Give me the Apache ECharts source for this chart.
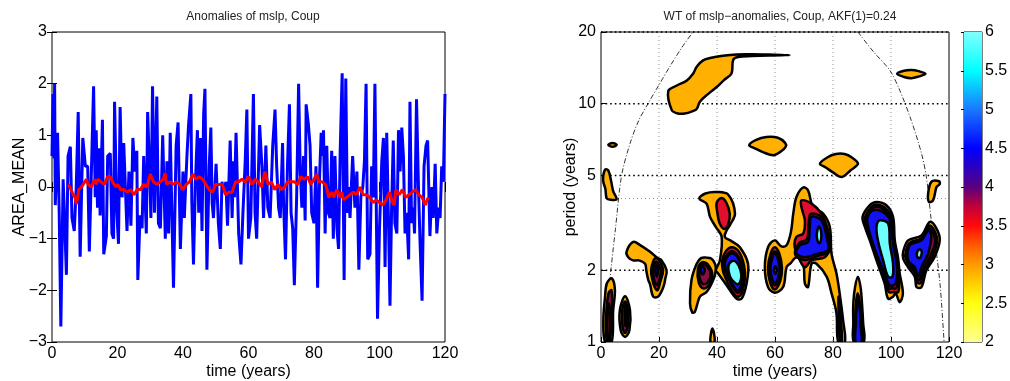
<!DOCTYPE html>
<html><head><meta charset="utf-8">
<script src="https://cdn.jsdelivr.net/npm/echarts@6/dist/echarts.min.js"></script>
<style>html,body{margin:0;padding:0;background:#fff}#c{width:1010px;height:381px}</style>
</head><body><div id="c"></div>
<script>
// ---------- DATA ----------
const timeTicks = [0, 20, 40, 60, 80, 100, 120];
const anomalyTicks = [-3, -2, -1, 0, 1, 2, 3];
const periodTicks = [1, 2, 5, 10, 20];
const colorbarTicks = [2, 2.5, 3, 3.5, 4, 4.5, 5, 5.5, 6];

// blue: anomalies [time, value]
const anomalies = [[0.0,0.6],[0.3,1.8],[0.6,0.55],[0.8,2.0],[1.0,-0.35],[1.7,1.05],[2.2,-0.5],[2.7,-2.7],[3.4,0.15],[3.9,-0.75],[4.4,-1.7],[4.9,0.6],[5.6,0.78],[6.1,-0.6],[6.8,-0.85],[7.4,0.0],[8.0,1.45],[8.6,-1.35],[9.4,0.95],[10.2,0.4],[10.9,0.4],[11.4,-1.25],[12.7,1.95],[13.2,-0.2],[13.5,1.1],[13.9,-0.4],[14.3,0.75],[14.7,-0.55],[15.4,1.3],[15.8,-1.3],[16.6,-0.95],[17.0,0.6],[17.8,0.65],[18.3,-0.9],[18.8,-1.0],[19.1,1.65],[19.8,-0.5],[20.3,-1.1],[20.8,1.55],[21.4,-0.2],[21.9,0.85],[22.9,-0.85],[23.5,0.3],[24.1,-0.75],[24.7,0.95],[25.3,0.3],[25.9,0.7],[26.2,-1.8],[26.9,-0.55],[27.5,-0.8],[28.0,0.6],[28.8,-0.9],[29.2,1.45],[29.8,0.3],[30.2,-0.6],[30.7,1.95],[31.3,-0.5],[32.0,1.75],[32.5,-0.7],[33.1,-0.8],[33.8,1.0],[34.6,-1.0],[35.1,0.5],[35.6,-0.9],[36.1,1.05],[36.6,-0.5],[37.1,-1.95],[37.9,0.8],[38.5,1.25],[39.2,-1.2],[40.0,0.3],[40.4,-0.6],[41.2,0.6],[41.7,1.2],[42.4,1.8],[42.7,-0.3],[43.2,-1.5],[43.8,0.1],[44.4,1.1],[44.8,-0.5],[45.3,0.95],[45.8,-0.85],[46.3,1.4],[46.7,1.9],[47.3,-1.6],[48.0,0.4],[48.5,1.15],[48.9,-0.3],[49.3,-0.6],[50.1,0.45],[50.8,-0.7],[51.4,-1.2],[51.9,0.1],[52.4,-0.1],[53.1,0.1],[53.6,-0.75],[54.4,0.9],[55.0,-0.6],[55.4,0.5],[55.7,-0.2],[56.2,1.05],[57.0,-0.9],[57.7,-1.5],[58.3,-0.5],[59.0,0.5],[59.5,1.5],[60.0,-1.0],[60.7,-0.6],[61.5,1.8],[62.0,-0.5],[62.5,-1.0],[63.4,1.2],[64.1,0.4],[64.6,-0.6],[65.3,0.8],[65.9,-0.4],[66.6,-0.6],[67.4,0.8],[68.1,1.5],[68.6,0.4],[69.2,-0.4],[69.7,-0.6],[70.4,0.85],[70.7,-0.3],[71.3,-1.4],[71.9,0.4],[72.5,1.6],[73.0,-0.5],[73.5,-0.8],[74.0,-1.9],[74.7,-0.2],[75.3,2.0],[75.8,0.3],[76.3,-0.4],[76.8,0.6],[77.3,-0.65],[77.6,1.6],[78.3,1.2],[78.8,0.8],[79.3,-0.5],[80.0,-0.7],[80.6,0.4],[81.1,-1.95],[81.7,0.2],[82.2,1.05],[82.7,0.6],[82.9,1.1],[83.4,-0.9],[83.9,0.8],[84.4,-0.5],[84.9,-0.6],[85.4,0.7],[85.9,-1.0],[86.4,0.6],[87.0,-0.8],[87.5,-1.2],[88.0,0.7],[88.6,2.2],[89.2,-1.8],[89.7,2.1],[90.2,-0.5],[90.5,0.0],[91.0,-0.6],[91.8,0.6],[92.5,-0.4],[93.1,0.3],[93.7,-1.6],[94.3,-0.2],[94.9,0.0],[95.4,0.5],[95.9,2.0],[96.4,-1.4],[97.1,-1.3],[97.6,0.4],[98.1,-0.2],[98.6,2.0],[99.4,-2.55],[100.0,-0.8],[100.7,0.5],[101.2,0.95],[101.7,-1.55],[102.2,1.05],[102.7,-0.5],[103.2,-2.3],[103.7,-0.4],[104.2,0.9],[104.7,-0.7],[105.3,-0.9],[105.8,1.1],[106.3,0.3],[106.8,1.15],[107.3,0.6],[107.8,-0.9],[108.3,-0.5],[108.9,-1.4],[109.3,1.65],[109.8,-0.7],[110.3,-0.4],[110.7,-0.9],[111.3,1.7],[111.9,0.0],[112.4,-1.1],[113.0,-2.2],[113.6,0.4],[114.2,0.8],[114.7,0.9],[115.4,-0.95],[116.0,0.0],[116.4,-0.6],[117.0,0.45],[117.5,-0.9],[118.1,-0.4],[118.5,-0.6],[119.0,0.4],[119.5,0.1],[120.0,1.8]];

// red: running mean [time, value]
const runningMean = [[5,0.05],[5.8,-0.05],[6.5,-0.15],[7,-0.2],[7.5,-0.33],[8.2,-0.05],[9,0.0],[10,0.1],[10.5,0.15],[11,0.05],[12,0.0],[13,0.15],[13.5,0.05],[14,0.15],[15,0.1],[16,0.05],[17,0.2],[17.8,0.2],[18.5,0.1],[19.5,0.0],[20,0.05],[21,-0.05],[22,-0.05],[23,-0.1],[24,-0.05],[25,-0.15],[26,-0.05],[27,-0.05],[28,0.05],[29,0.0],[30,0.25],[31,0.1],[32,0.05],[33,0.1],[34,0.15],[34.5,0.27],[35,0.05],[36,0.1],[37,0.05],[38,0.1],[39,0.05],[40,-0.05],[41,0.05],[42,0.1],[43,0.25],[44,0.15],[45,0.2],[46,0.15],[47,0.05],[48,-0.05],[49,-0.1],[50,0.05],[51,0.05],[52,0.05],[53,-0.15],[54,-0.1],[55,-0.1],[56,0.1],[57,0.1],[58,0.15],[59,0.1],[60,0.2],[61,0.05],[62,0.15],[63,0.1],[64,0.0],[65,0.3],[66,0.05],[67,0.1],[68,-0.05],[69,0.05],[70,-0.05],[71,0.0],[72,0.1],[73,0.1],[74,0.1],[75,0.05],[76,0.2],[77,0.15],[78,0.2],[79,0.05],[80,0.15],[80.8,0.25],[81.5,0.1],[82.5,0.1],[83.5,0.05],[84,-0.05],[84.5,-0.2],[85,-0.15],[85.5,-0.1],[86,-0.2],[87,-0.05],[88,-0.2],[88.5,-0.1],[89,-0.25],[90,-0.2],[91,-0.15],[92,-0.1],[93,-0.15],[94,0.0],[95,-0.15],[96,-0.15],[97,-0.2],[98,-0.3],[99,-0.25],[100,-0.3],[101,-0.35],[102,-0.25],[103,-0.1],[104,-0.3],[104.5,-0.35],[105,-0.05],[106,-0.15],[107,-0.05],[108,-0.2],[109,-0.15],[110,-0.1],[111,-0.05],[112,-0.15],[113,-0.2],[114,-0.35],[114.5,-0.25],[115,-0.2]];

// cone of influence [time, period]
const coiLeft = [[1.4,1],[2.4,1.5],[3.4,2],[5,3],[7.1,5],[10,6.8],[13,8.5],[16.2,10],[20,12],[24,14.5],[28,17.3],[31.7,20]];
const coiRight = [[88.6,20],[94,16.5],[99.6,13.8],[103,11.4],[107,8.5],[110.5,6.2],[112.2,4.93],[113.9,3.24],[115.7,2.35],[117,1.7],[118.2,1.05],[118.3,1]];

// grid lines of the wavelet panel
const gridPeriodsMajor = [2, 5, 10, 20];
const gridPeriodsMinor = [4];
const gridTimes = [20, 40, 60, 80, 100];

// contour levels (wavelet power)
const LV_ORANGE = 2.8, LV_RED = 3.5, LV_MAROON = 3.8, LV_BLUE = 4.5, LV_CYAN = 5.5;

// contour regions [time, period]
const blobTop = [[23.2,11.3],[24.4,9.4],[26.5,9.1],[28.9,9.1],[31.5,9.3],[33.0,9.5],[34.1,10.2],[37,11.0],[39.9,11.75],[42.5,12.6],[45.0,13.4],[45.6,15.3],[47.3,15.7],[52,15.85],[58,15.95],[65.1,16.0],[58,16.08],[52,16.12],[46.8,16.1],[42,15.9],[38,15.6],[35.2,15.2],[33.0,14.3],[31.8,13.4],[29.5,12.5],[26,11.9]];
const blobMid1 = [[51.1,6.7],[53.5,7.05],[57,7.25],[61,7.2],[63.5,6.85],[63.7,6.6],[62,6.3],[59.5,6.08],[56,6.25],[53,6.5]];
const blobMid2 = [[75.5,5.6],[78,5.95],[81,6.15],[84,6.15],[86.5,5.95],[88.6,5.6],[86,5.25],[83,4.93],[80,5.15],[77.5,5.4]];
const blobTopRight = [[102.1,13.35],[104.5,13.75],[107,13.85],[109.5,13.7],[111.9,13.35],[109.5,13.0],[107,12.8],[104.5,12.95]];
const blobDash = [[2.5,6.72],[4,6.85],[5.4,6.72],[4,6.6]];
const blobLeft5 = [[0.8,5.0],[1.5,5.3],[2.5,5.25],[3.4,4.8],[4.2,4.3],[5.4,3.97],[3.5,3.95],[2.0,4.0],[1.5,4.4],[0.8,4.7]];
const blobG = [[8.8,2.39],[11.1,2.63],[13.5,2.55],[16.9,2.39],[19.5,2.25],[20.9,2.2],[22.6,2.0],[22.2,1.85],[21.5,1.7],[19.7,1.55],[18.0,1.55],[16.9,1.75],[16.3,1.82],[15.6,2.0],[15.2,2.13],[13,2.2],[11.1,2.2],[9.4,2.27]];
const blobGred = [[17.3,2.0],[18,2.18],[19,2.25],[20.3,2.18],[21.4,2.0],[20.5,1.8],[19.5,1.65],[18.5,1.7],[17.6,1.85]];
const blobGmar = [[17.9,2.0],[18.4,2.12],[19.1,2.17],[20,2.1],[20.7,1.98],[20.1,1.82],[19.4,1.73],[18.6,1.78],[18.1,1.88]];
const blobGblue = [[18.7,2.0],[19.2,2.1],[19.7,2.0],[19.2,1.88]];
const blobH = [[36.4,2.26],[34.5,2.25],[33.0,2.13],[31.2,1.82],[30.7,1.45],[31.5,1.33],[32.4,1.34],[34.1,1.55],[36.4,1.62],[38.7,1.82],[39.6,2.0],[39.3,2.13],[38.0,2.24]];
const blobHred = [[33.4,2.02],[34.8,2.16],[36.8,2.12],[38.4,1.92],[37.2,1.73],[35.2,1.68],[33.7,1.78]];
const blobHmar = [[33.9,2.02],[35,2.12],[36.6,2.08],[37.8,1.93],[36.8,1.78],[35.2,1.75],[34.1,1.84]];
const blobHblue = [[34.4,2.0],[35.1,2.08],[35.8,2.0],[35.1,1.92]];
const blobI = [[33.9,4.0],[36,4.2],[39.9,4.26],[43.9,4.15],[46.2,3.46],[44.5,3.1],[43.3,2.94],[42.7,2.76],[45,2.65],[47.9,2.5],[50.7,2.13],[50.2,1.76],[48.5,1.52],[46.7,1.52],[43.3,1.73],[40.4,1.94],[39.6,2.0],[41.0,2.2],[41.6,2.76],[39.5,3.05],[37.6,3.35],[36.4,3.81]];
const blobIupRed = [[39.9,3.85],[41.5,4.02],[43.2,3.85],[44.4,3.45],[43.8,3.1],[42.5,2.98],[40.9,3.15],[40.1,3.5]];
const blobIred = [[41.8,2.2],[43,2.4],[45,2.5],[47.5,2.4],[49.3,2.1],[49.6,1.85],[48.5,1.6],[47,1.55],[45,1.65],[43,1.85],[42,2.0]];
const blobImar = [[42.5,2.2],[43.5,2.33],[45.1,2.41],[47.1,2.31],[48.8,2.06],[49.0,1.85],[48.2,1.65],[47,1.61],[45.3,1.71],[43.6,1.89],[42.6,2.03]];
const blobIblue = [[42.8,2.18],[43.8,2.3],[45.2,2.36],[47,2.28],[48.6,2.05],[48.8,1.85],[48,1.68],[47,1.64],[45.5,1.73],[43.8,1.9],[42.9,2.04]];
const blobIcyan = [[43.9,2.07],[45,2.18],[46.6,2.17],[48.1,2.0],[48.3,1.84],[47.3,1.75],[46,1.78],[44.5,1.88]];
const blobJK = [[56.5,2.06],[57.6,2.5],[59.9,2.67],[62.2,2.52],[64.0,2.55],[65.5,2.9],[66.3,3.46],[67.4,4.06],[69.7,4.45],[71.4,4.33],[73.1,3.69],[76.6,3.46],[78.9,3.04],[79.5,2.35],[81.2,1.94],[82.3,1.6],[83.5,1.23],[84.1,1.0],[81.8,1.0],[81.2,1.32],[79.5,1.6],[77.8,1.88],[74.3,2.13],[72.6,2.13],[71.4,1.70],[70.3,1.76],[69.7,2.13],[67.4,2.27],[65.5,2.15],[64.0,2.06],[62.8,1.70],[59.9,1.61],[57.6,1.70]];
const blobJred = [[57.6,2.05],[58.5,2.35],[59.9,2.5],[61.5,2.35],[62.4,2.05],[61.8,1.8],[59.9,1.66],[58.3,1.78]];
const blobJmar = [[58.1,2.05],[58.9,2.29],[59.9,2.4],[61.1,2.29],[61.9,2.05],[61.4,1.83],[59.9,1.73],[58.7,1.83]];
const blobJblue = [[58.4,2.05],[59.1,2.25],[59.9,2.35],[60.9,2.25],[61.6,2.05],[61.1,1.86],[59.9,1.77],[58.9,1.86]];
const blobJcyan = [[59.6,2.0],[60.1,2.08],[60.6,2.0],[60.1,1.93]];
const blobKtail = [[81.9,1.55],[82.6,1.3],[83.1,1.0],[82.4,1.0],[82.0,1.25]];
const blobKred = [[69.1,3.93],[72.6,3.81],[76.0,3.46],[78.3,2.94],[78.9,2.5],[77.2,2.27],[72.6,2.2],[70.3,2.06],[68.6,2.2],[66.8,2.5],[67.4,2.76],[69.7,2.85],[70.3,3.24],[69.1,3.69]];
const blobKmar = [[72.3,3.45],[76.4,3.32],[78.2,2.78],[78.7,2.4],[74.9,2.3],[70.3,2.21],[67.0,2.32],[68.3,2.6],[71.0,2.7],[71.6,3.1]];
const blobKblue = [[72.6,3.35],[76.0,3.24],[77.8,2.76],[78.3,2.43],[74.9,2.35],[70.3,2.27],[67.4,2.35],[68.6,2.55],[71.4,2.63],[72.0,3.04]];
const blobKcyan = [[74.4,2.82],[74.8,3.0],[75.3,3.05],[75.9,2.9],[75.9,2.7],[75.3,2.6],[74.7,2.65]];
const blobL = [[88.6,1.88],[89.5,1.7],[90.0,1.45],[90.4,1.2],[90.6,1.0],[87.2,1.0],[87.0,1.2],[87.0,1.45],[87.6,1.7]];
const blobLred = [[88.5,1.6],[89.3,1.45],[89.8,1.2],[90.1,1.0],[87.6,1.0],[87.6,1.2],[87.9,1.45]];
const blobLblue = [[88.6,1.5],[89.3,1.35],[89.6,1.15],[89.8,1.0],[87.8,1.0],[87.9,1.2],[88.1,1.38]];
const blobM = [[90.2,3.35],[92.7,3.75],[95.0,3.87],[98.4,3.75],[100.7,3.35],[101.3,2.67],[102.4,2.27],[103.0,1.94],[104.1,1.6],[103.0,1.47],[101.6,1.6],[100.7,1.55],[99.0,1.52],[97.8,1.76],[95.0,2.2],[92.7,2.67],[91.0,3.04]];
const blobMred = [[91.0,3.32],[93.2,3.68],[95.0,3.78],[98.0,3.65],[100.2,3.3],[100.9,2.63],[102.2,2.15],[102.8,1.85],[102.5,1.62],[101,1.62],[99.3,1.62],[97.8,1.85],[95,2.27],[92.7,2.76],[91.4,3.05]];
const blobMmar = [[91.4,3.31],[93.5,3.62],[95.1,3.7],[97.7,3.58],[99.9,3.27],[100.8,2.61],[102.1,2.1],[102.3,1.84],[101.8,1.68],[100.5,1.68],[99.4,1.68],[97.8,1.9],[95,2.31],[92.7,2.8]];
const blobMblue = [[91.8,3.3],[93.8,3.57],[97.3,3.51],[99.6,3.24],[100.7,2.59],[102.1,2.06],[101.6,1.76],[99.6,1.73],[97.8,1.94],[95.0,2.35],[92.7,2.85]];
const blobMcyan = [[96.1,3.24],[99.0,3.14],[99.6,2.59],[100.7,2.13],[100.5,1.88],[99.0,1.88],[97.3,2.2],[95.5,2.67],[95.0,3.04]];
const blobN = [[104.2,2.39],[105.9,2.67],[110.5,2.8],[113.4,3.19],[115.7,2.99],[116.8,2.67],[115.0,2.27],[112.2,2.0],[110.5,1.70],[108.8,1.70],[108.2,1.88],[105.9,2.06],[104.2,2.24]];
const blobNred = [[105.0,2.35],[106.3,2.6],[110.5,2.73],[113.2,3.08],[115.0,2.93],[115.9,2.65],[114.3,2.28],[111.8,2.02],[110.3,1.77],[109.2,1.77],[108.6,1.92],[106.3,2.1],[105.0,2.26]];
const blobNmar = [[105.6,2.42],[106.4,2.58],[110.5,2.7],[113,3.0],[114.6,2.86],[115.2,2.62],[113.6,2.3],[111.2,2.03],[109.8,1.82],[108.8,1.85],[108.4,1.98],[106.1,2.15],[105.4,2.3]];
const blobNblue = [[106.5,2.55],[110.5,2.67],[112.8,2.94],[113.9,2.8],[112.8,2.35],[110.5,2.06],[109.3,1.88],[108.2,2.06],[105.9,2.2]];
const blobNcyan = [[108.9,2.35],[109.8,2.45],[110.6,2.4],[110.2,2.27],[109.4,2.25]];
const blobO = [[113.9,4.7],[116.6,4.73],[116.8,4.6],[115.7,4.47],[114.5,3.93],[113.1,3.87],[112.8,4.19]];
const blobP = [[2.0,1.76],[3.7,1.85],[4.8,1.65],[4.2,1.36],[3.7,1.0],[1.4,1.0],[0.8,1.23],[1.4,1.55]];
const blobPmar = [[2.6,1.6],[3.6,1.65],[3.8,1.4],[3.0,1.0],[2.0,1.0],[1.8,1.3]];
const blobPred = [[2.7,1.45],[3.2,1.3],[2.8,1.0],[2.2,1.0],[2.3,1.3]];
const blobQ = [[8.3,1.555],[10.0,1.36],[9.8,1.12],[8.3,1.05],[6.8,1.12],[6.5,1.36]];
const blobQmar = [[8.3,1.48],[9.3,1.36],[9.2,1.16],[8.3,1.09],[7.4,1.16],[7.3,1.36]];
const blobQred = [[8.4,1.44],[8.8,1.3],[8.7,1.17],[8.4,1.17],[8.2,1.3]];
const blobR = [[37.8,1.0],[37.9,1.08],[38.4,1.14],[39.0,1.08],[39.1,1.0]];

const contourRings = [
  [blobTop, LV_ORANGE], [blobMid1, LV_ORANGE], [blobMid2, LV_ORANGE], [blobTopRight, LV_ORANGE],
  [blobDash, LV_ORANGE], [blobLeft5, LV_ORANGE], [blobO, LV_ORANGE], [blobR, LV_ORANGE],
  [blobP, LV_ORANGE], [blobPmar, LV_MAROON], [blobPred, LV_RED],
  [blobQ, LV_ORANGE], [blobQmar, LV_MAROON], [blobQred, LV_RED],
  [blobG, LV_ORANGE], [blobGred, LV_RED], [blobGmar, LV_MAROON], [blobGblue, LV_BLUE],
  [blobH, LV_ORANGE], [blobHred, LV_RED], [blobHmar, LV_MAROON], [blobHblue, LV_BLUE],
  [blobI, LV_ORANGE], [blobIupRed, LV_RED], [blobIred, LV_RED], [blobImar, LV_MAROON], [blobIblue, LV_BLUE], [blobIcyan, LV_CYAN],
  [blobJK, LV_ORANGE], [blobJred, LV_RED], [blobJmar, LV_MAROON], [blobJblue, LV_BLUE], [blobJcyan, LV_CYAN],
  [blobKtail, LV_MAROON], [blobKred, LV_RED], [blobKmar, LV_MAROON], [blobKblue, LV_BLUE], [blobKcyan, LV_CYAN],
  [blobL, LV_ORANGE], [blobLred, LV_RED], [blobLblue, LV_BLUE],
  [blobM, LV_ORANGE], [blobMred, LV_RED], [blobMmar, LV_MAROON], [blobMblue, LV_BLUE], [blobMcyan, LV_CYAN],
  [blobN, LV_ORANGE], [blobNred, LV_RED], [blobNmar, LV_MAROON], [blobNblue, LV_BLUE], [blobNcyan, LV_CYAN]
];

// colormap of the colorbar
const colormapValues = [2, 2.5, 2.75, 3, 3.25, 3.5, 3.75, 4, 4.25, 4.5, 5, 5.5, 6];
const colormapColors = ['#ffff90', '#ffff10', '#ffd000', '#ff9a00', '#ff5a00', '#ff0a0a', '#c00038', '#5a0080', '#2a00c0', '#0000ff', '#1a78ff', '#00ffff', '#80ffff'];

// ---------- STYLE ----------
const FONT = "'Liberation Sans', Arial, Helvetica, sans-serif";
const levelColor = {};
levelColor[LV_ORANGE] = '#FFB000';
levelColor[LV_RED] = '#E0102C';
levelColor[LV_MAROON] = '#8A0E42';
levelColor[LV_BLUE] = '#1212F2';
levelColor[LV_CYAN] = '#70FFFF';

const log10 = v => Math.log10(v);
const minus = v => String(v).replace('-', '\u2212');
const LOGMAX = log10(20);

const chart = echarts.init(document.getElementById('c'), null, {renderer: 'canvas'});

const tickStyle = {show: true, inside: true, length: 5, lineStyle: {color: '#000', width: 1}};
const labelStyle = {color: '#000', fontSize: 16, fontFamily: FONT};

function hLine(color, width, dash) {
  return function (params, api) {
    const cs = params.coordSys;
    const y = api.coord([0, api.value(1)])[1];
    return {type: 'line', shape: {x1: cs.x, y1: y, x2: cs.x + cs.width, y2: y},
      style: {stroke: color, lineWidth: width, lineDash: dash}, silent: true};
  };
}
function vLine(color, width, dash) {
  return function (params, api) {
    const cs = params.coordSys;
    const x = api.coord([api.value(0), 0])[0];
    return {type: 'line', shape: {x1: x, y1: cs.y, x2: x, y2: cs.y + cs.height},
      style: {stroke: color, lineWidth: width, lineDash: dash}, silent: true};
  };
}

const option = {
  animation: false,
  backgroundColor: '#fff',
  textStyle: {fontFamily: FONT},
  title: [
    {text: 'Anomalies of mslp, Coup', left: 248, top: 6, textAlign: 'center',
     textStyle: {fontSize: 12, fontWeight: 'normal', color: '#222', fontFamily: FONT}},
    {text: 'WT of mslp\u2212anomalies, Coup, AKF(1)=0.24', left: 775, top: 6, textAlign: 'center',
     textStyle: {fontSize: 12, fontWeight: 'normal', color: '#222', fontFamily: FONT}}
  ],
  grid: [
    {left: 52, top: 32, width: 393, height: 310, show: true, borderColor: '#000', borderWidth: 1, backgroundColor: '#fff', outerBoundsMode: 'none', containLabel: false},
    {left: 601, top: 32, width: 348, height: 310, show: true, borderColor: '#000', borderWidth: 1, backgroundColor: '#fff', outerBoundsMode: 'none', containLabel: false},
    {left: 964, top: 32, width: 18, height: 310, show: true, borderColor: '#000', borderWidth: 1, outerBoundsMode: 'none', containLabel: false}
  ],
  xAxis: [
    {gridIndex: 0, type: 'value', min: 0, max: 120, interval: 20, axisLine: {show: false},
     axisTick: tickStyle, axisLabel: Object.assign({margin: 4}, labelStyle), splitLine: {show: false},
     name: 'time (years)', nameLocation: 'middle', nameGap: 22, nameMoveOverlap: false, nameTextStyle: labelStyle},
    {gridIndex: 0, type: 'value', position: 'top', min: 0, max: 120, interval: 20, axisLine: {show: false},
     axisTick: tickStyle, axisLabel: {show: false}, splitLine: {show: false}},
    {gridIndex: 1, type: 'value', min: 0, max: 120, interval: 20, axisLine: {show: false},
     axisTick: tickStyle, axisLabel: Object.assign({margin: 4}, labelStyle), splitLine: {show: false},
     name: 'time (years)', nameLocation: 'middle', nameGap: 22, nameMoveOverlap: false, nameTextStyle: labelStyle},
    {gridIndex: 2, type: 'value', min: 0, max: 1, show: false}
  ],
  yAxis: [
    {gridIndex: 0, type: 'value', min: -3, max: 3, interval: 1, axisLine: {show: false},
     axisTick: tickStyle, axisLabel: Object.assign({margin: 5, formatter: minus}, labelStyle), splitLine: {show: false},
     name: 'AREA_MEAN', nameLocation: 'middle', nameGap: 24, nameMoveOverlap: false, nameTextStyle: labelStyle},
    {gridIndex: 0, type: 'value', position: 'right', min: -3, max: 3, interval: 1, axisLine: {show: false},
     axisTick: tickStyle, axisLabel: {show: false}, splitLine: {show: false}},
    {gridIndex: 1, type: 'value', min: 0, max: LOGMAX, axisLine: {show: false},
     axisTick: Object.assign({customValues: periodTicks.map(log10)}, tickStyle),
     axisLabel: Object.assign({margin: 5, customValues: periodTicks.map(log10),
       formatter: v => String(Math.round(Math.pow(10, v)))}, labelStyle),
     splitLine: {show: false},
     name: 'period (years)', nameLocation: 'middle', nameGap: 22, nameMoveOverlap: false, nameTextStyle: labelStyle},
    {gridIndex: 2, type: 'value', position: 'right', min: 2, max: 6, interval: 0.5, axisLine: {show: false},
     axisTick: {show: true, inside: true, length: 3, lineStyle: {color: '#000'}},
     axisLabel: Object.assign({margin: 3}, labelStyle), splitLine: {show: false}}
  ],
  series: [
    {type: 'line', xAxisIndex: 0, yAxisIndex: 0, data: anomalies, showSymbol: false,
     lineStyle: {color: '#0000ff', width: 3}, z: 2},
    {type: 'line', xAxisIndex: 0, yAxisIndex: 0, data: runningMean, showSymbol: false,
     lineStyle: {color: '#ff0000', width: 3}, z: 3},
    // grid lines
    {type: 'custom', xAxisIndex: 2, yAxisIndex: 2, renderItem: vLine('#8a8a8a', 1, [1, 3]),
     data: gridTimes.map(t => [t, 0]), z: 1},
    {type: 'custom', xAxisIndex: 2, yAxisIndex: 2, renderItem: hLine('#8a8a8a', 1, [1, 3]),
     data: gridPeriodsMinor.map(p => [0, log10(p)]), z: 1},
    {type: 'custom', xAxisIndex: 2, yAxisIndex: 2, renderItem: hLine('#000', 1.6, [1.6, 3]),
     data: gridPeriodsMajor.map(p => [0, log10(p)]), z: 1},
    // cone of influence
    {type: 'line', xAxisIndex: 2, yAxisIndex: 2, data: coiLeft.map(d => [d[0], log10(d[1])]), showSymbol: false,
     smooth: 0.3, lineStyle: {color: '#000', width: 0.8, type: [5, 2, 1, 2]}, z: 2},
    {type: 'line', xAxisIndex: 2, yAxisIndex: 2, data: coiRight.map(d => [d[0], log10(d[1])]), showSymbol: false,
     smooth: 0.3, lineStyle: {color: '#000', width: 0.8, type: [5, 2, 1, 2]}, z: 2},
    // contours
    {type: 'custom', xAxisIndex: 2, yAxisIndex: 2, clip: true, z: 3,
     data: contourRings.map((r, i) => [i, r[1]]),
     renderItem: function (params, api) {
       const ring = contourRings[params.dataIndex];
       const pts = ring[0].map(p => api.coord([p[0], log10(p[1])]));
       return {type: 'polygon', shape: {points: pts, smooth: 0.35},
         style: {fill: levelColor[ring[1]], stroke: '#000', lineWidth: 2.5, lineJoin: 'round'}};
     }},
    // colorbar
    {type: 'custom', xAxisIndex: 3, yAxisIndex: 3, z: 2,
     data: [[0, colormapValues[0]], [1, colormapValues[colormapValues.length - 1]]],
     renderItem: function (params, api) {
       if (params.dataIndex !== 0) return null;
       const p0 = api.coord([0, colormapValues[0]]);
       const p1 = api.coord([1, colormapValues[colormapValues.length - 1]]);
       const lo = colormapValues[0], hi = colormapValues[colormapValues.length - 1];
       const stops = colormapValues.map((v, i) => ({offset: (v - lo) / (hi - lo), color: colormapColors[i]}));
       return {type: 'rect', shape: {x: p0[0], y: p1[1], width: p1[0] - p0[0], height: p0[1] - p1[1]},
         style: {fill: new echarts.graphic.LinearGradient(0, 1, 0, 0, stops)}};
     }}
  ]
};
chart.setOption(option);
</script>
</body></html>
